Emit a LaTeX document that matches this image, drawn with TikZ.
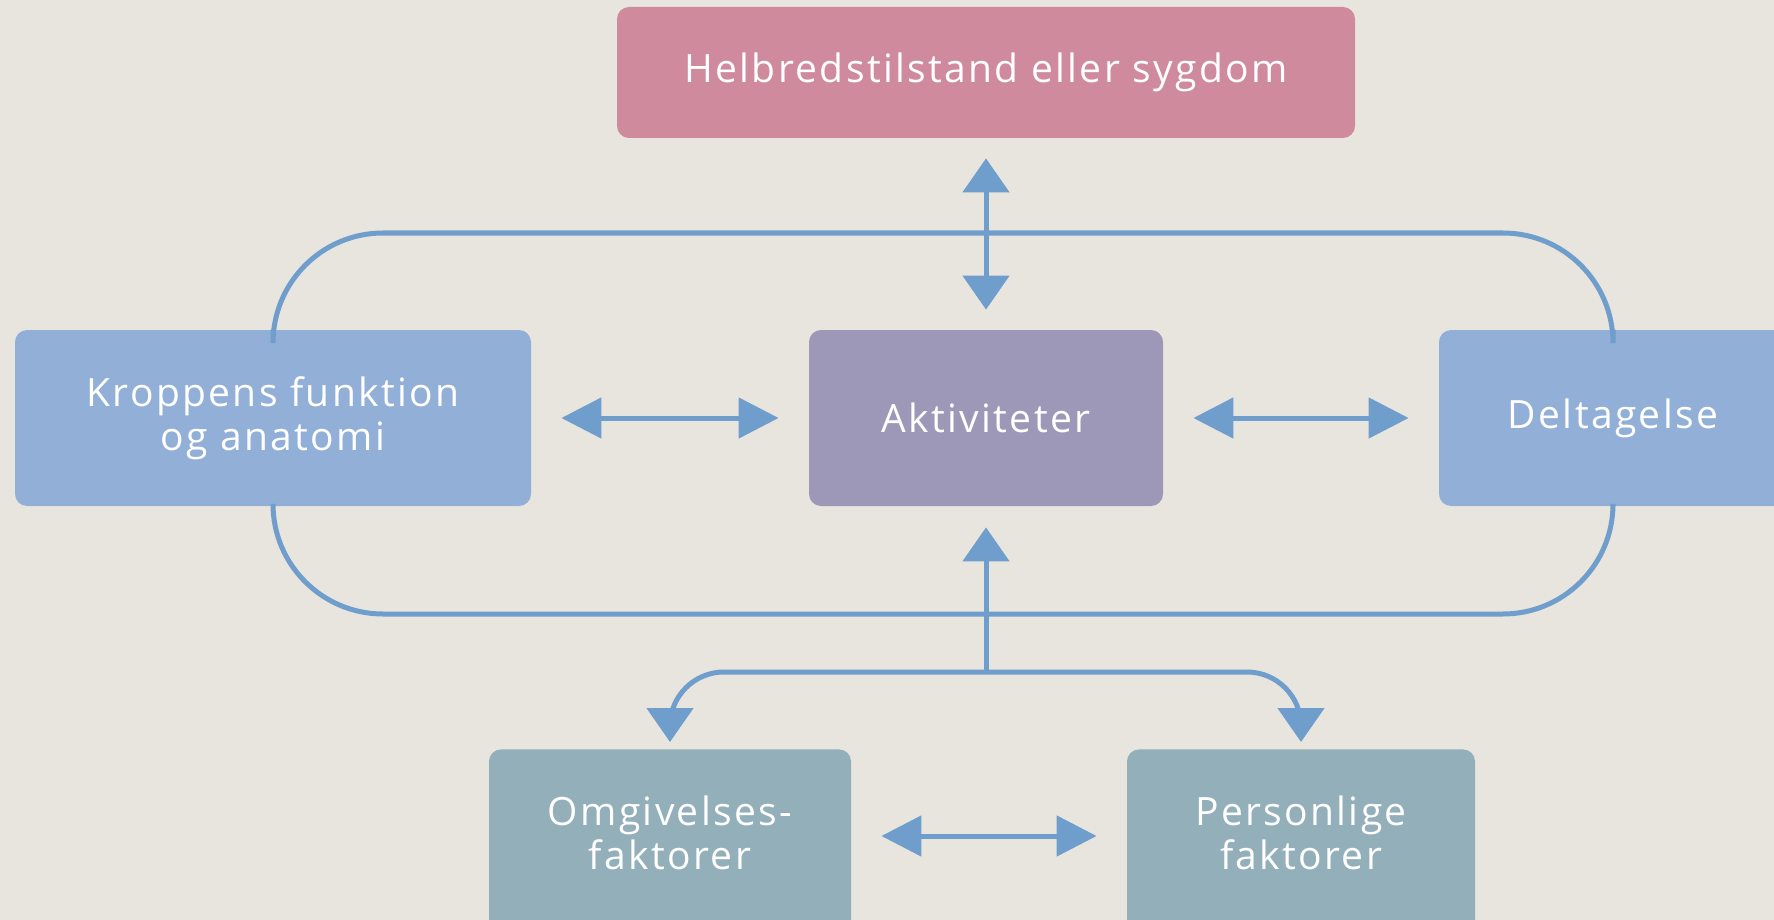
\documentclass[tikz,border=0pt]{standalone}
\usepackage{fontspec}
\setmainfont[LetterSpace=6]{Open Sans}
\usetikzlibrary{arrows.meta}
\definecolor{bgcol}{HTML}{E8E5DE}
\definecolor{pinkbox}{HTML}{CF8B9D}
\definecolor{bluebox}{HTML}{92AFD7}
\definecolor{violetbox}{HTML}{9D98B7}
\definecolor{tealbox}{HTML}{93AFBA}
\definecolor{linecol}{HTML}{6F9ECD}
\begin{document}
\begin{tikzpicture}[x=0.5pt, y=-0.5pt, box/.style={rounded corners=6pt, text=white, align=center, inner sep=0pt, font=\fontsize{19.5}{22}\selectfont}, lowbox/.style={box, fill=tealbox, anchor=north, minimum height=110pt, text height=37pt, text depth=27pt}, link/.style={draw=linecol, line width=2.5pt}, harrow/.style={link, {Triangle[length=20pt,width=20pt]}-{Triangle[length=20pt,width=20pt]}, shorten <=15pt, shorten >=15pt}, varrow/.style={link, -{Triangle[length=17pt,width=23pt]}}]
\useasboundingbox (0,0) rectangle (1774,920);
\clip (0,0) rectangle (1774,920);
\fill[bgcol] (0,0) rectangle (1774,920);
\coordinate (looptop) at (986,233);
\coordinate (loopbot) at (986,614);
\coordinate (junc) at (986,672);
% boxes
\node[box, fill=pinkbox, minimum width=369pt, minimum height=65.5pt] (helb) at (986,72.5) {Helbredstilstand eller sygdom};
\node[box, fill=bluebox, minimum width=258pt, minimum height=88pt] (kro) at (273,418) {Kroppens funktion\\og anatomi};
\node[box, fill=violetbox, minimum width=177pt, minimum height=88pt] (akt) at (986,418) {Aktiviteter};
\node[box, fill=bluebox, minimum width=174pt, minimum height=88pt] (del) at (1613,418) {Deltagelse};
\node[lowbox, minimum width=181pt] (omg) at (670,749) {Omgivelses-\\faktorer};
\node[lowbox, minimum width=174pt] (per) at (1301,749) {Personlige\\faktorer};
% loop
\draw[link, rounded corners=55pt] (kro.north) |- (looptop) -| (del.north);
\draw[link, rounded corners=55pt] (kro.south) |- (loopbot) -| (del.south);
% arrows
\draw[link, {Triangle[length=17pt,width=23pt]}-{Triangle[length=17pt,width=23pt]}, shorten <=10pt, shorten >=10pt] (helb) -- (akt);
\draw[harrow] (kro) -- (akt);
\draw[harrow] (akt) -- (del);
\draw[harrow] (omg.east |- 0,836) -- (per.west |- 0,836);
\draw[varrow, shorten >=10.5pt] (junc) -- (akt);
\draw[varrow, rounded corners=27pt, shorten >=3.5pt] (junc) -| (omg);
\draw[varrow, rounded corners=27pt, shorten >=3.5pt] (junc) -| (per);
\end{tikzpicture}
\end{document}
